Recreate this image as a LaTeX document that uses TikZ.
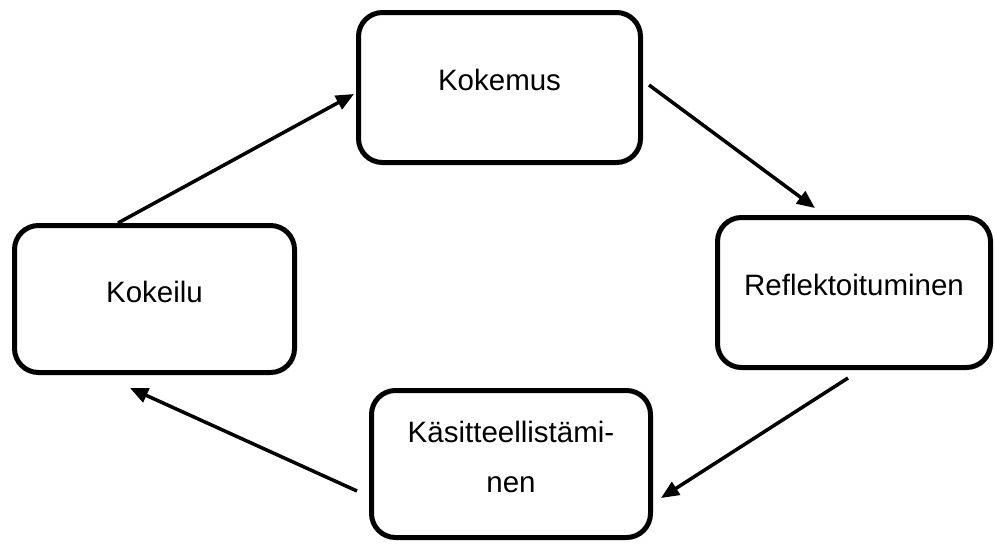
\documentclass[tikz,border=0pt]{standalone}
\usepackage{fontspec}
\setmainfont{Liberation Sans}
\usetikzlibrary{arrows.meta}
\newcommand\bstrut{\rule[-15pt]{0pt}{36pt}}
\begin{document}
\begin{tikzpicture}[x=1pt,y=-1pt,
  box/.style={draw, line width=5pt, rounded corners=24pt, inner sep=0pt,
    font=\fontsize{29.5}{50}\selectfont, align=center},
  conn/.style={line width=3.5pt, -{Triangle[length=18pt,width=15pt]}}]
\useasboundingbox (0,0) rectangle (995,544);
\node[box, minimum width=282pt, minimum height=150pt] (kokemus) at (499.5,87.5) {\bstrut Kokemus};
\node[box, minimum width=280pt, minimum height=147pt] (kokeilu) at (154.5,299) {\bstrut Kokeilu};
\node[box, minimum width=273pt, minimum height=150pt] (refl) at (854,292.5) {\bstrut Reflektoituminen};
\node[box, minimum width=279pt, minimum height=147pt] (kas) at (511,464) {Käsitteellistämi-\\nen\rule[-14pt]{0pt}{0pt}};
\draw[conn] ([xshift=-36.5pt]kokeilu.north) -- ([xshift=-2pt,yshift=-6.5pt]kokemus.west);
\draw[conn] ([xshift=6pt,yshift=2.5pt]kokemus.east) -- ([xshift=-39pt,yshift=7pt]refl.north);
\draw[conn] ([xshift=-6pt,yshift=-8pt]refl.south) -- ([xshift=8pt,yshift=-34pt]kas.east);
\draw[conn] ([xshift=-12pt,yshift=-27pt]kas.west) -- ([xshift=-24.5pt,yshift=-13pt]kokeilu.south);
\end{tikzpicture}
\end{document}
